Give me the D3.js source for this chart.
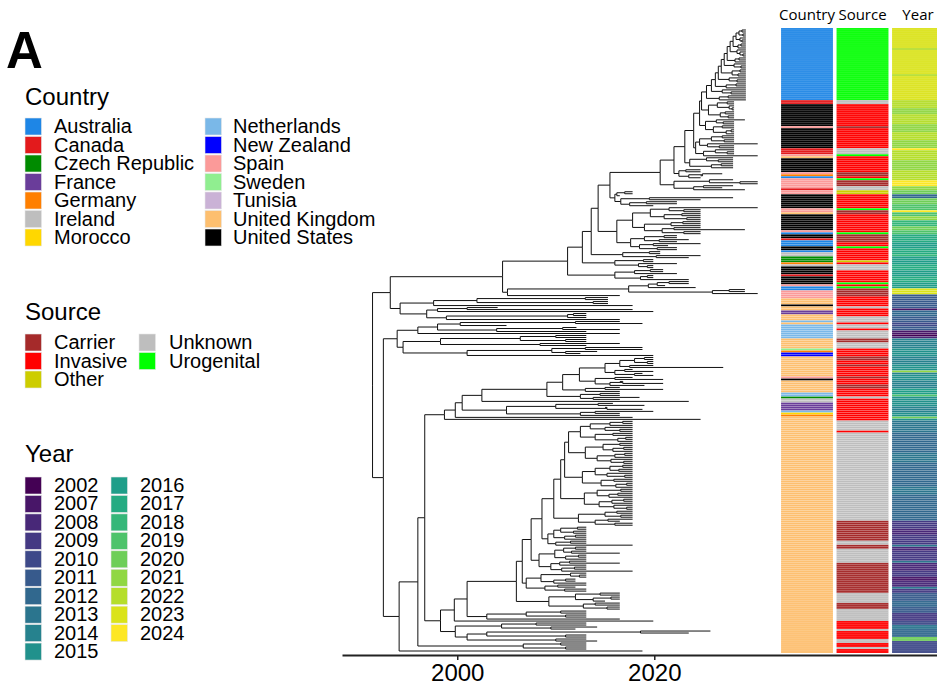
<!DOCTYPE html>
<html>
<head>
<meta charset="utf-8">
<title></title>
<style>
  body { margin: 0; background: #fff; }
  text { font-family: "Liberation Sans", Arial, sans-serif; fill: #000; }
  .links path { fill: none; stroke: #111; stroke-width: 1; }
  .axis .domain { stroke: #222; stroke-width: 2; }
  .axis .tick line { stroke: #222; stroke-width: 1.5; }
  .axis .tick text { font-size: 24px; font-family: "Liberation Sans", Arial, sans-serif; }
  .hdr { font-family: "Open Sans", sans-serif; font-size: 15px; }
</style>
</head>
<body>
<svg width="937" height="685"></svg>
<script src="https://cdn.jsdelivr.net/npm/d3@7"></script>
<script>

// ---- legend categories ----
var countries = ["Australia", "Canada", "Czech Republic", "France", "Germany", "Ireland", "Morocco",
  "Netherlands", "New Zealand", "Spain", "Sweden", "Tunisia", "United Kingdom", "United States"];
var sources = ["Carrier", "Invasive", "Other", "Unknown", "Urogenital"];
var years = [2002, 2007, 2008, 2009, 2010, 2011, 2012, 2013, 2014, 2015,
  2016, 2017, 2018, 2019, 2020, 2021, 2022, 2023, 2024];

var countryColors = ["#1e86e6", "#e31a1c", "#008b00", "#6a3d9a", "#ff7f00", "#bebebe", "#ffd700",
  "#7ab8e8", "#0000ff", "#fb9a99", "#90ee90", "#cab2d6", "#fdbf6f", "#000000"];
var sourceColors = ["#a52a2a", "#ff0000", "#cdcd00", "#bebebe", "#00ff00"];

// ---- heatmap columns, top to bottom, as [value, number of tips] ----
var countryRuns = [
  ["Australia",36],["Canada",2],["United States",11],["Spain",1],["United States",10],["Canada",3],
  ["Spain",1],["United Kingdom",1],["United States",7],["Spain",1],["Germany",1],["Australia",1],
  ["Spain",5],["Canada",1],["Spain",2],["United States",7],["Spain",2],["United Kingdom",1],
  ["United States",8],["Spain",1],["Australia",1],["United States",2],["Canada",1],["Australia",3],
  ["United States",2],["Australia",1],["Ireland",2],["Czech Republic",3],["Germany",1],["Ireland",1],
  ["United States",4],["Canada",1],["United States",4],["Spain",1],["Australia",2],["Spain",4],
  ["United Kingdom",3],["United States",1],["United Kingdom",2],["France",2],["United Kingdom",3],
  ["Netherlands",1],["United Kingdom",1],["Netherlands",7],["United Kingdom",5],["Sweden",1],
  ["Germany",1],["New Zealand",2],["United Kingdom",10],["Spain",1],["United States",1],
  ["United Kingdom",6],["Netherlands",2],["Czech Republic",1],["Ireland",2],["France",4],
  ["Netherlands",1],["Morocco",1],["Germany",1],["United Kingdom",118]
];
var sourceRuns = [
  ["Urogenital",36],["Unknown",2],["Invasive",11],["Carrier",1],["Invasive",10],["Unknown",3],
  ["Urogenital",1],["Invasive",8],["Carrier",2],["Invasive",1],["Urogenital",1],["Carrier",3],
  ["Unknown",2],["Other",2],["Invasive",7],["Urogenital",1],["Carrier",2],["Invasive",9],
  ["Urogenital",1],["Carrier",4],["Invasive",2],["Urogenital",1],["Invasive",6],["Other",1],
  ["Invasive",1],["Unknown",3],["Invasive",6],["Urogenital",1],["Invasive",1],["Urogenital",1],
  ["Carrier",4],["Invasive",5],["Unknown",1],["Invasive",4],["Unknown",3],["Invasive",1],
  ["Unknown",2],["Invasive",1],["Unknown",4],["Carrier",2],["Unknown",3],["Invasive",4],
  ["Carrier",2],["Invasive",2],["Carrier",1],["Invasive",5],["Carrier",1],["Invasive",3],
  ["Carrier",2],["Invasive",4],["Unknown",1],["Invasive",11],["Unknown",5],["Invasive",1],
  ["Unknown",44],["Carrier",10],["Unknown",2],["Carrier",2],["Unknown",7],["Carrier",15],
  ["Unknown",5],["Carrier",3],["Unknown",6],["Invasive",4],["Unknown",1],["Invasive",4],
  ["Unknown",2],["Invasive",2],["Unknown",1],["Invasive",2]
];
var yearRuns = [
  [2023,10],[2022,1],[2023,12],[2022,1],[2023,12],
  [2022,4],[2021,3],[2022,5],[2021,4],[2022,4],[2021,4],[2024,1],
  [2022,5],[2021,5],[2022,5],[2024,3],[2021,2],[2020,2],[2012,2],
  [2020,3],[2019,3],[2024,1],[2019,2],[2021,2],[2018,3],[2020,2],[2019,2],
  [2017,4],[2016,3],[2017,3],[2018,1],[2016,4],[2017,3],[2016,3],[2017,3],[2016,3],
  [2023,3],[2011,7],[2007,1],[2012,3],[2011,3],[2010,2],[2011,2],[2007,2],[2002,1],[2008,1],
  [2014,5],[2015,4],[2014,4],[2015,3],[2021,1],[2014,1],
  [2015,3],[2014,4],[2016,3],[2019,1],[2015,5],[2014,3],[2015,2],[2020,1],[2015,1],
  [2013,6],[2012,10],[2013,5],[2012,12],[2013,4],[2012,13],
  [2009,4],[2008,3],[2009,5],[2013,1],[2008,2],[2009,2],
  [2009,3],[2013,1],[2008,4],[2009,3],[2007,2],[2008,3],[2013,1],[2009,2],
  [2011,4],[2012,3],[2011,3],[2009,4],[2010,2],[2013,2],[2012,4],[2020,2],[2010,6]
];

// ---- tree: newick-like, every leaf and node labelled with its date (decimal year) ----
// top (Australia) clades
var A_1 = "((2029.3,2029.3)2028.9,(2029.3,2029.3)2029.0)2028.6";
var A_2 = "(2029.3,(2029.3,2029.3)2028.9)2028.7";
var A_3 = "((2029.3,2029.3)2028.8,2029.3)2028.5";
var A_4 = "(2029.3,(2029.3,(2029.3,2029.3)2029.0)2028.7)2028.4";
var A_5 = "((2029.3,2029.3)2028.6,2029.3)2028.2";
var A_6 = "(2029.3,(2029.3,2029.3)2028.8)2028.1";
var A_7 = "((2029.3,2029.3)2028.7,(2029.3,2029.3)2028.5)2027.9";
var A_8 = "(2029.3,(2029.3,2029.3)2028.4)2027.6";
var A_9 = "((2029.3,2029.3)2028.3,2029.3)2027.3";
var A_10 = "(2029.3,(2029.3,2029.3)2027.8)2026.9";
var A_11 = "((2029.3,2029.3)2027.5,2029.3)2026.6";
var M_1 = "(((2028.1,2028.1)2027.4,(2028.1,(2028.1,2028.1)2027.9)2027.6)2026.4,((2028.1,2028.1)2027.2,(2028.1,2028.1)2027.5)2026.7)2025.5";
var M_2 = "((2029.2,(2028.1,2028.1)2027.0)2026.3,((2028.1,2028.1)2026.9,((2028.1,2028.1)2027.8,2028.1)2027.3)2026.0)2025.2";
var M_3 = "((((2028.1,2028.1)2026.9,(2028.1,2028.1)2027.1)2025.8,(2030.5,(2028.1,2028.1)2026.6)2025.4)2024.6,((2028.1,(2028.1,2028.1)2027.4)2026.2,2030.5)2025.0)2024.2";
var L_1 = "((2028.0,(2028.0,2028.0)2026.5)2025.3,((2028.0,2028.0)2026.8,2028.0)2025.8)2023.6";
var L_2 = "((2024.7,2024.7)2023.2,((2026.9,2024.7)2024.9,2024.7)2023.5)2022.5";
var L_3 = "((2028.0,(2030.5,2030.5)2028.7)2025.6,((2028.0,2026.9)2025.0,2029.2)2024.0)2022.0";
var C_1 = "(((2017.8,2017.8)2017.0,2016.5)2016.2,((2028.0,2024.7)2019.5,((2022.3,2022.3)2019.2,2019.9)2017.5)2016.6)2016.0";
var P_1 = "(((2030.5,(2024.7,2024.7)2023.0)2021.5,((2024.7,2024.7)2022.8,(2024.7,2024.7)2023.3)2021.0)2019.6,(((2024.7,2024.7)2022.9,2024.7)2021.7,((2024.7,2029.2)2022.0,(2024.7,2024.7)2023.0)2020.8)2019.0)2017.8";
var P_2 = "(((2022.3,2022.3)2021.0,(2023.5,2022.3)2020.5)2019.0,((2024.7,2021.4)2019.9,(2022.3,2022.3)2020.3)2018.5)2017.6";
var Q_1 = "((2020.6,2020.6)2019.5,(2024.7,2023.5)2020.2)2016.8";
var R_1 = "((2019.9,2019.9)2018.9,(2022.3,(2019.9,2019.9)2019.3)2018.4)2016.0";
var R_2 = "(((2020.9,2020.9)2019.6,2022.3)2018.0,((2019.9,2019.9)2019.3,2023.5)2018.6)2016.0";
var A1b = "(((((2023.5,2023.5)2021.5,2021.1)2020.3,2024.2)2019.4,((2029.2,2029.2)2027.6,2030.5)2025.9)2017.4,2016.5)2005.1";
var A2 = "((((2015.3,2015.3)2013.0,(2015.3,2015.3)2013.8)2002.0,2017.8)1997.6,(((2004.1,2017.8)2001.0,2019.9)1998.0,(((2013.1,2013.1)2011.8,2013.1)2011.2,2016.5)1998.9)1996.9)1994.2";
// lower clades
var B1a = "((((2016.5,2018.8)2012.0,2005.0)2000.3,((2012.1,2016.5)2010.7,2013.1)2004.0)1998.0,2016.5)1996.0";
var B1b = "((((2013.1,2013.1)2010.0,(2013.1,2013.1)2011.0)2006.4,(2016.5,2013.1)2008.4)1998.3,(((2018.8,2018.8)2013.0,(2014.2,2012.5)2011.0)2009.6,2019.9)2001.0)1994.5";
var K_1 = "((((2019.9,2019.9)2019.0,(2019.9,2019.9)2019.3)2018.0,(2019.9,2027.0)2017.5)2016.5,((2017.8,2019.9)2017.0,(2018.8,2019.9)2018.0)2016.0)2015.0";
var K_2 = "((2017.8,2020.9)2016.0,((2016.5,2020.9)2016.8,2019.0)2015.5)2014.0";
var K_3 = "((2016.5,2020.9)2015.0,2016.5)2013.0";
var K_4 = "((2016.5,2016.5)2014.5,(2018.5,2016.5)2013.8)2012.5";
var K_6 = "(((2015.8,2019.0)2014.3,(2015.0,2018.8)2015.2)2010.0,((2019.9,2016.5)2014.0,2016.5)2012.5)2005.0";
var U_1 = "((((2017.8,2017.8)2016.8,2017.8)2015.5,(2017.8,(2017.8,2017.8)2016.5)2015.0)2013.5,((2017.8,2017.8)2015.8,((2017.8,2017.8)2017.1,2017.8)2016.3)2014.0)2012.5";
var U_2 = "(((2017.8,2017.8)2016.5,((2017.8,2017.8)2016.9,2017.8)2015.8)2014.8,(((2017.8,2017.8)2017.0,2017.8)2016.0,(2017.8,(2017.8,2017.8)2016.9)2015.6)2014.2)2013.0";
var U_3 = "((((2017.8,2017.8)2016.8,(2017.8,2017.8)2016.4)2015.5,(2017.8,(2017.8,2017.8)2017.0)2015.2)2014.0,((2017.8,2017.8)2015.9,((2017.8,2017.8)2017.2,2017.8)2016.1)2014.6)2012.7";
var U_4 = "(((2017.8,2017.8)2016.6,((2017.8,2017.8)2016.3,2017.8)2015.4)2014.2,(((2017.8,2017.8)2016.9,2017.8)2015.7,(2017.8,(2017.8,2017.8)2017.2)2015.9)2014.4)2012.9";
var U_5 = "(((2017.8,2017.8)2016.2,(2017.8,2017.8)2016.6)2015.0,((2017.8,2016.5)2015.3,(2017.8,2017.8)2016.0)2014.0)2012.3";
var U_6 = "((((2013.1,2013.1)2012.2,(2013.1,2013.1)2011.8)2010.5,((2013.1,2013.1)2012.0,2013.1)2010.9)2009.8,((2013.1,2013.1)2011.5,2017.8)2010.0)2009.2";
var U_7 = "((((2013.1,2013.1)2012.0,(2013.1,2016.5)2011.6)2010.8,((2013.1,2013.1)2012.3,2013.1)2011.0)2009.9,(((2013.1,2016.5)2011.4,2013.1)2010.4,((2013.1,2013.1)2011.9,2017.8)2010.6)2009.5)2008.3";
var U_8 = "(((2013.1,(2013.1,2013.1)2012.4)2011.5,((2012.0,2012.0)2011.0,2013.1)2009.8)2008.5,((2013.1,2012.0)2010.2,(2013.1,2013.1)2010.9)2008.9)2007.0";
var U_9 = "(((2016.5,2016.5)2014.5,((2016.5,2016.5)2015.6,2015.0)2013.8)2012.0,((2016.5,2016.5)2014.0,(2016.5,2016.5)2015.2)2012.8)2009.3";
var U_10 = "(((2013.1,2013.1)2010.5,(2013.1,2013.1)2011.0)2007.0,2016.5)2003.0";
var W_1 = "(((2013.1,2013.1)2008.0,(2014.2,2012.0)2009.5)2004.5,(((2025.7,2023.5)2018.6,(2013.1,2013.1)2011.0)2003.0,(2013.1,2014.2)2010.0)2001.0)1999.8";
var X_1 = "((2013.1,2013.1)2010.5,(2013.1,2013.1)2011.0)2006.7";

// a ladder: first clade on top, each next [clade, date] joins below it at a new node
function ladder(first, steps) {
  return steps.reduce(function(acc, s) { return "(" + acc + "," + s[0] + ")" + s[1]; }, first);
}

var nodeK = ladder(K_1, [[K_2, 2012.4], [K_3, 2010.7], [K_4, 2009.1], ["2023.5", 2002.5],
  [K_6, 2000.5], ["2017.8", 1999.8], ["2024.7", 1998.7]]);
var nodeUK = ladder(U_1, [[U_2, 2011.3], [U_3, 2010.9], [U_4, 2010.5], [U_5, 2009.8], [U_6, 2008.6],
  [U_7, 2007.5], [U_8, 2006.6], [U_9, 2006.0], [U_10, 2001.0], ["2019.9", 1999.7], [W_1, 1998.3]]);
var nodeB1 = "(" + B1a + "," + B1b + ")1993.9";
var nodeB2 = ladder(nodeK, [[nodeUK, 1996.7], [X_1, 1996.0], ["2018.8", 1994.1]]);
var cladeB = "(" + nodeB1 + "," + nodeB2 + ")1992.5";
var treeText = ladder(A_1, [[A_2, 2028.3], [A_3, 2028.0], [A_4, 2027.7], [A_5, 2027.4], [A_6, 2027.1],
  [A_7, 2026.8], [A_8, 2026.5], [A_9, 2026.2], [A_10, 2025.8], [A_11, 2025.3], [M_1, 2024.8],
  [M_2, 2024.6], [M_3, 2024.0], [L_1, 2023.1], [L_2, 2022.0], [L_3, 2020.6], [C_1, 2015.5],
  ["(" + P_1 + "," + P_2 + ")2016.2", 2014.3], [Q_1, 2013.6], [R_1, 2012.7], [R_2, 2011.2],
  [A1b, 2004.6], [A2, 1993.2], [cladeB, 1991.4]]);

function parseTree(s) {
  var i = 0;
  function node() {
    var n = {};
    if (s[i] === "(") {
      i++;
      n.children = [];
      while (true) {
        n.children.push(node());
        if (s[i] === ",") { i++; continue; }
        i++; break;
      }
    }
    var j = i;
    while (i < s.length && /[0-9.]/.test(s[i])) i++;
    n.year = +s.slice(j, i);
    return n;
  }
  return node();
}

// ---- drawing ----
var svg = d3.select("svg");

var x = d3.scaleLinear().domain([1988.3, 2048.7]).range([342, 937]);

var root = d3.hierarchy(parseTree(treeText));
var nTips = root.leaves().length;
var tipTop = 29, tipBottom = 652;
d3.cluster().size([tipBottom - tipTop, 1]).separation(function() { return 1; })(root);
root.each(function(d) { d.py = tipTop + d.x; });
var step = (tipBottom - tipTop) / (nTips - 1);

svg.append("g")
  .attr("class", "links")
  .selectAll("path")
  .data(root.descendants().slice(1))
  .enter().append("path")
  .attr("d", function(d) {
    return "M" + x(d.parent.data.year) + "," + d.parent.py + "V" + d.py + "H" + x(d.data.year);
  });

// heatmap
function expand(runs) {
  var out = [];
  runs.forEach(function(r) { for (var k = 0; k < r[1]; k++) out.push(r[0]); });
  return out;
}
var countryColor = d3.scaleOrdinal().domain(countries).range(countryColors);
var sourceColor = d3.scaleOrdinal().domain(sources).range(sourceColors);
var yearColor = d3.scaleOrdinal().domain(years)
  .range(years.map(function(y, i) { return d3.interpolateViridis(i / (years.length - 1)); }));

var columns = [
  {name: "Country", x0: 781, values: expand(countryRuns), color: countryColor},
  {name: "Source", x0: 836.5, values: expand(sourceRuns), color: sourceColor},
  {name: "Year", x0: 892, values: expand(yearRuns), color: yearColor}
];
var colW = 52;

columns.forEach(function(c) {
  var g = svg.append("g");
  g.selectAll("rect")
    .data(c.values)
    .enter().append("rect")
    .attr("x", c.x0)
    .attr("y", function(v, i) { return tipTop + i * step - step / 2; })
    .attr("width", colW)
    .attr("height", step)
    .attr("fill", function(v) { return c.color(v); })
    .attr("stroke", "rgba(255,255,255,0.3)")
    .attr("stroke-width", 0.4);
  svg.append("text")
    .attr("class", "hdr")
    .attr("x", c.x0 + colW / 2)
    .attr("y", 20)
    .attr("text-anchor", "middle")
    .text(c.name);
});

// axis
var axis = svg.append("g")
  .attr("class", "axis")
  .attr("transform", "translate(0,655)")
  .call(d3.axisBottom(x).tickValues([2000, 2020]).tickFormat(d3.format("d")).tickSize(5).tickSizeOuter(0).tickPadding(4));
axis.selectAll(".tick text").attr("fill", "#000");

// panel letter
svg.append("text")
  .attr("x", 6)
  .attr("y", 68)
  .style("font-size", "51px")
  .style("font-weight", "bold")
  .text("A");

// legends
function legend(title, titleY, items, scale, cols) {
  svg.append("text").attr("x", 25).attr("y", titleY).style("font-size", "24px").text(title);
  cols.forEach(function(col) {
    var g = svg.append("g");
    var rows = g.selectAll("g")
      .data(items.slice(col.from, col.to))
      .enter().append("g")
      .attr("transform", function(d, i) { return "translate(" + col.x + "," + (col.y + i * col.dy) + ")"; });
    rows.append("rect")
      .attr("width", 16.5).attr("height", 17)
      .attr("fill", function(d) { return scale(d); })
      .attr("stroke", "#e6e6e6").attr("stroke-width", 0.6);
    rows.append("text")
      .attr("x", col.tx).attr("y", 15)
      .style("font-size", "20px")
      .text(function(d) { return d; });
  });
}

legend("Country", 105, countries, countryColor, [
  {from: 0, to: 7, x: 25, y: 118, dy: 18.5, tx: 29},
  {from: 7, to: 14, x: 205, y: 118, dy: 18.5, tx: 28}
]);
legend("Source", 320, sources, sourceColor, [
  {from: 0, to: 3, x: 25, y: 334, dy: 18.5, tx: 29},
  {from: 3, to: 5, x: 139, y: 334, dy: 18.5, tx: 30}
]);
legend("Year", 462, years, yearColor, [
  {from: 0, to: 10, x: 25, y: 477, dy: 18.45, tx: 29},
  {from: 10, to: 19, x: 111, y: 477, dy: 18.45, tx: 29}
]);

</script>
</body>
</html>
